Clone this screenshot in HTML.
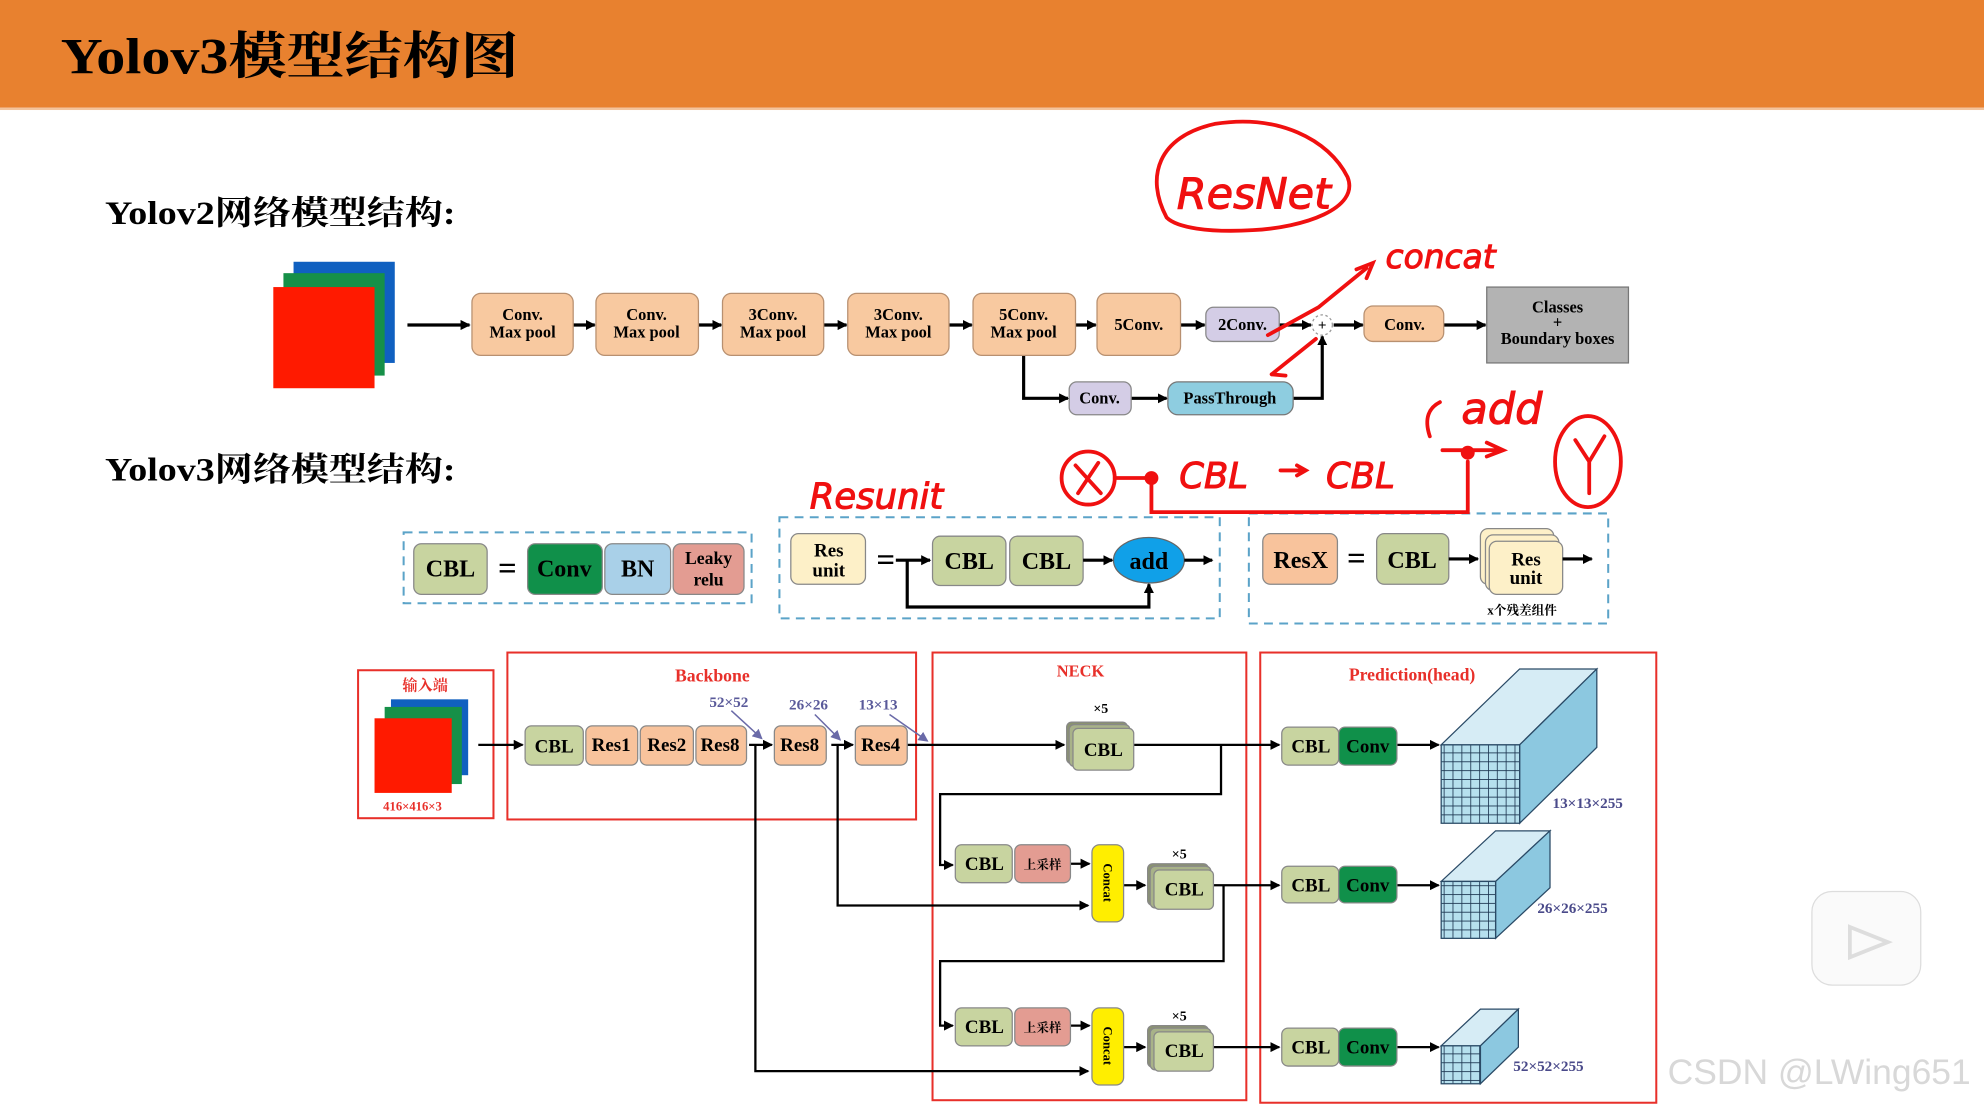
<!DOCTYPE html>
<html><head><meta charset="utf-8"><style>
html,body{margin:0;padding:0;background:#fff;}
svg{display:block}
text{font-family:"Liberation Serif","Noto Serif CJK SC","Noto Sans CJK SC",serif;font-weight:bold;}
</style></head><body>
<svg width="1984" height="1104" viewBox="0 0 1568 873" preserveAspectRatio="none" xmlns="http://www.w3.org/2000/svg">
<defs>
<marker id="a" markerWidth="8" markerHeight="8" refX="7" refY="4" orient="auto" markerUnits="userSpaceOnUse"><path d="M0,0 L8,4 L0,8 z" fill="#000"/></marker>
<marker id="p" markerWidth="8" markerHeight="8" refX="7" refY="4" orient="auto" markerUnits="userSpaceOnUse"><path d="M0,0 L8,4 L0,8 z" fill="#6a6aa8"/></marker>
<pattern id="g1" width="7" height="7" patternUnits="userSpaceOnUse"><rect width="7" height="7" fill="#b6e0ee"/><path d="M0,0H7M0,0V7" stroke="#1c3550" stroke-width="1.3"/></pattern>
</defs>
<rect x="0" y="0" width="1568" height="85" fill="#E8812F"/>
<rect x="0" y="85" width="1568" height="2" fill="#f3c39c"/>
<text x="48" y="58" font-size="40" fill="#000" textLength="362" lengthAdjust="spacingAndGlyphs">Yolov3模型结构图</text>
<text x="83" y="177" font-size="26" fill="#000" textLength="277" lengthAdjust="spacingAndGlyphs">Yolov2网络模型结构:</text>
<text x="83" y="380" font-size="26" fill="#000" textLength="277" lengthAdjust="spacingAndGlyphs">Yolov3网络模型结构:</text>

<!-- yolov2 -->
<rect x="232" y="207" width="80" height="80" fill="#1060C0"/>
<rect x="224" y="216" width="80" height="81" fill="#169048"/>
<rect x="216" y="227" width="80" height="80" fill="#FF1A00"/>
<g stroke="#000" stroke-width="2.5" fill="none" marker-end="url(#a)">
<path d="M322,257H371"/><path d="M453,257H470"/><path d="M552,257H570"/><path d="M651,257H669"/><path d="M750,257H768"/><path d="M850,257H866"/><path d="M933,257H952"/><path d="M1011,257H1036"/><path d="M1054,257H1077"/><path d="M1141,257H1174"/>
<path d="M809,281V315H844"/><path d="M894,315H922"/><path d="M1022,315H1045V266"/>
</g>
<g stroke="#b89070" stroke-width="1" fill="#F8C9A0">
<rect x="373" y="232" width="80" height="49" rx="7"/><rect x="471" y="232" width="81" height="49" rx="7"/><rect x="571" y="232" width="80" height="49" rx="7"/><rect x="670" y="232" width="80" height="49" rx="7"/><rect x="769" y="232" width="81" height="49" rx="7"/><rect x="867" y="232" width="66" height="49" rx="7"/><rect x="1078" y="242" width="63" height="28" rx="7"/>
</g>
<rect x="953" y="243" width="58" height="27" rx="6" fill="#D4CDE6" stroke="#888"/>
<rect x="845" y="302" width="49" height="26" rx="6" fill="#D4CDE6" stroke="#888"/>
<rect x="923" y="302" width="99" height="26" rx="8" fill="#8ECDE0" stroke="#777"/>
<rect x="1175" y="227" width="112" height="60" fill="#B3B3B3" stroke="#777"/>
<circle cx="1045" cy="257" r="8" fill="#fff" stroke="#999" stroke-dasharray="2,2"/>
<text x="1045" y="261" font-size="12" text-anchor="middle">+</text>
<g font-size="13" text-anchor="middle" fill="#000">
<text x="413" y="253">Conv.</text><text x="413" y="267">Max pool</text>
<text x="511" y="253">Conv.</text><text x="511" y="267">Max pool</text>
<text x="611" y="253">3Conv.</text><text x="611" y="267">Max pool</text>
<text x="710" y="253">3Conv.</text><text x="710" y="267">Max pool</text>
<text x="809" y="253">5Conv.</text><text x="809" y="267">Max pool</text>
<text x="900" y="261">5Conv.</text><text x="982" y="261">2Conv.</text><text x="1110" y="261">Conv.</text>
<text x="869" y="319">Conv.</text><text x="972" y="319">PassThrough</text>
<text x="1231" y="247">Classes</text><text x="1231" y="259">+</text><text x="1231" y="272">Boundary boxes</text>
</g>

<!-- components -->
<g fill="none" stroke="#5BA3C8" stroke-width="1.6" stroke-dasharray="7,5">
<rect x="319" y="421" width="275" height="56"/><rect x="616" y="409" width="348" height="80"/><rect x="987" y="406" width="284" height="87"/>
</g>
<g stroke="#888" stroke-width="1">
<rect x="327" y="430" width="58" height="40" rx="6" fill="#C8D4A0"/>
<rect x="417" y="430" width="59" height="40" rx="6" fill="#10904A"/>
<rect x="478" y="430" width="52" height="40" rx="6" fill="#A9D0E8"/>
<rect x="532" y="430" width="56" height="40" rx="6" fill="#E39C92"/>
<rect x="625" y="422" width="59" height="40" rx="6" fill="#FDF0C8"/>
<rect x="737" y="424" width="58" height="39" rx="6" fill="#C8D4A0"/>
<rect x="798" y="424" width="58" height="39" rx="6" fill="#C8D4A0"/>
<rect x="998" y="422" width="59" height="40" rx="6" fill="#F8C39C"/>
<rect x="1088" y="422" width="57" height="40" rx="6" fill="#C8D4A0"/>
<rect x="1170" y="418" width="58" height="44" rx="6" fill="#FDF0C8"/>
<rect x="1174" y="423" width="58" height="44" rx="6" fill="#FDF0C8"/>
<rect x="1177" y="428" width="58" height="42" rx="6" fill="#FDF0C8"/>
</g>
<ellipse cx="908" cy="443" rx="28" ry="18" fill="#10A0E8" stroke="#666"/>
<g stroke="#000" stroke-width="2.5" fill="none" marker-end="url(#a)">
<path d="M708,443H735"/><path d="M856,443H879"/><path d="M936,443H958"/><path d="M717,443V480H908V462"/><path d="M1145,442H1168"/><path d="M1235,442H1258"/>
</g>
<g font-size="19" text-anchor="middle" fill="#000">
<text x="356" y="456">CBL</text><text x="401" y="458" font-size="26">=</text>
<text x="446" y="456">Conv</text><text x="504" y="456">BN</text>
<text x="560" y="446" font-size="14">Leaky</text><text x="560" y="463" font-size="14">relu</text>
<text x="655" y="440" font-size="15">Res</text><text x="655" y="456" font-size="15">unit</text>
<text x="700" y="451" font-size="26">=</text>
<text x="766" y="450">CBL</text><text x="827" y="450">CBL</text><text x="908" y="450">add</text>
<text x="1028" y="449">ResX</text><text x="1072" y="450" font-size="26">=</text><text x="1116" y="449">CBL</text>
<text x="1206" y="447" font-size="15">Res</text><text x="1206" y="462" font-size="15">unit</text>
<text x="1203" y="486" font-size="10">x个残差组件</text>
</g>

<!-- bottom red boxes -->
<g fill="none" stroke="#E8302A" stroke-width="1.6">
<rect x="283" y="530" width="107" height="117"/><rect x="401" y="516" width="323" height="132"/><rect x="737" y="516" width="248" height="354"/><rect x="996" y="516" width="313" height="356"/>
</g>
<g fill="#E8302A" font-size="14" text-anchor="middle">
<text x="336" y="546" font-size="12">输入端</text><text x="563" y="539" font-weight="normal">Backbone</text><text x="854" y="535" font-weight="normal" font-size="13">NECK</text><text x="1116" y="538" font-weight="normal">Prediction(head)</text>
<text x="326" y="641" font-size="10" font-weight="normal">416×416×3</text>
</g>
<rect x="309" y="553" width="61" height="60" fill="#1060C0"/><rect x="304" y="559" width="61" height="61" fill="#169048"/><rect x="296" y="568" width="61" height="59" fill="#FF1A00"/>

<g stroke="#000" stroke-width="1.8" fill="none" marker-end="url(#a)">
<path d="M378,589H413"/><path d="M592,589H610"/><path d="M657,589H674"/><path d="M717,589H841"/>
<path d="M895,589H1011"/><path d="M1104,589H1137"/>
<path d="M965,589V628H743V684H753"/><path d="M846,683H861"/><path d="M662,589V716H860"/>
<path d="M888,700H905"/><path d="M958,700H1011"/><path d="M1104,700H1137"/>
<path d="M967,700V760H743V811H753"/><path d="M846,811H861"/><path d="M597,589V847H860"/>
<path d="M888,828H905"/><path d="M958,828H1011"/><path d="M1104,828H1137"/>
</g>
<g stroke="#6a6aa8" stroke-width="1.2" fill="none" marker-end="url(#p)">
<path d="M578,562L602,584"/><path d="M644,565L664,585"/><path d="M703,565L733,586"/>
</g>
<g fill="#5a5a9a" font-size="12" font-weight="normal" text-anchor="middle">
<text x="576" y="559">52×52</text><text x="639" y="561">26×26</text><text x="694" y="561">13×13</text>
</g>
<g stroke="#888" stroke-width="1">
<rect x="415" y="574" width="46" height="31" rx="5" fill="#C8D4A0"/>
<rect x="463" y="574" width="41" height="31" rx="5" fill="#F8C39C"/><rect x="506" y="574" width="42" height="31" rx="5" fill="#F8C39C"/><rect x="550" y="574" width="40" height="31" rx="5" fill="#F8C39C"/>
<rect x="612" y="574" width="41" height="31" rx="5" fill="#F8C39C"/><rect x="676" y="574" width="41" height="31" rx="5" fill="#F8C39C"/>
<rect x="843" y="571" width="48" height="33" rx="4" fill="#8a9270"/><rect x="845" y="573" width="48" height="33" rx="4" fill="#a8b288"/><rect x="848" y="576" width="48" height="33" rx="4" fill="#C8D4A0"/>
<rect x="907" y="683" width="48" height="33" rx="4" fill="#8a9270"/><rect x="909" y="685" width="48" height="33" rx="4" fill="#a8b288"/><rect x="912" y="688" width="47" height="31" rx="4" fill="#C8D4A0"/>
<rect x="907" y="811" width="48" height="33" rx="4" fill="#8a9270"/><rect x="909" y="813" width="48" height="33" rx="4" fill="#a8b288"/><rect x="912" y="816" width="47" height="31" rx="4" fill="#C8D4A0"/>
<rect x="755" y="668" width="45" height="30" rx="5" fill="#C8D4A0"/><rect x="802" y="668" width="44" height="30" rx="5" fill="#E39C92"/>
<rect x="755" y="797" width="45" height="30" rx="5" fill="#C8D4A0"/><rect x="802" y="797" width="44" height="30" rx="5" fill="#E39C92"/>
<rect x="863" y="668" width="25" height="61" rx="6" fill="#FFEE00"/><rect x="863" y="797" width="25" height="61" rx="6" fill="#FFEE00"/>
<rect x="1013" y="575" width="45" height="30" rx="5" fill="#C8D4A0"/><rect x="1058" y="575" width="46" height="30" rx="5" fill="#10904A"/>
<rect x="1013" y="685" width="45" height="29" rx="5" fill="#C8D4A0"/><rect x="1058" y="685" width="46" height="29" rx="5" fill="#10904A"/>
<rect x="1013" y="813" width="45" height="30" rx="5" fill="#C8D4A0"/><rect x="1058" y="813" width="46" height="30" rx="5" fill="#10904A"/>
</g>
<g font-size="15" text-anchor="middle" fill="#000">
<text x="438" y="595">CBL</text><text x="483" y="594">Res1</text><text x="527" y="594">Res2</text><text x="569" y="594">Res8</text><text x="632" y="594">Res8</text><text x="696" y="594">Res4</text>
<text x="872" y="598">CBL</text><text x="936" y="708">CBL</text><text x="936" y="836">CBL</text>
<text x="870" y="564" font-size="11">×5</text><text x="932" y="679" font-size="11">×5</text><text x="932" y="807" font-size="11">×5</text>
<text x="778" y="688">CBL</text><text x="824" y="687" font-size="10">上采样</text>
<text x="778" y="817">CBL</text><text x="824" y="816" font-size="10">上采样</text>
<text x="1036" y="595">CBL</text><text x="1081" y="595">Conv</text>
<text x="1036" y="705">CBL</text><text x="1081" y="705">Conv</text>
<text x="1036" y="833">CBL</text><text x="1081" y="833">Conv</text>
</g>
<text transform="translate(872,698) rotate(90)" font-size="10" text-anchor="middle">Concat</text>
<text transform="translate(872,827) rotate(90)" font-size="10" text-anchor="middle">Concat</text>

<!-- cubes -->
<g stroke="#2a4a66" stroke-width="1">
<path d="M1139,589L1201,529H1262L1201,589Z" fill="#D6ECF5"/><path d="M1201,589L1262,529V591L1201,651Z" fill="#8CC8E0"/><rect x="1139" y="589" width="62" height="62" fill="url(#g1)"/>
<path d="M1139,697L1182,657H1225L1182,697Z" fill="#D6ECF5"/><path d="M1182,697L1225,657V702L1182,742Z" fill="#8CC8E0"/><rect x="1139" y="697" width="43" height="45" fill="url(#g1)"/>
<path d="M1139,827L1170,798H1200L1170,827Z" fill="#D6ECF5"/><path d="M1170,827L1200,798V828L1170,857Z" fill="#8CC8E0"/><rect x="1139" y="827" width="31" height="30" fill="url(#g1)"/>
</g>
<g fill="#4a4a8a" font-size="12" font-weight="normal">
<text x="1227" y="639">13×13×255</text><text x="1215" y="722">26×26×255</text><text x="1196" y="847">52×52×255</text>
</g>

<!-- handwriting -->
<g fill="none" stroke="#F01010" stroke-width="3" stroke-linecap="round">
<path d="M922,172C905,140 915,108 960,98C1010,90 1050,110 1065,140C1075,165 1030,180 990,182C955,184 930,180 922,172"/>
<path d="M1002,265L1042,243M1042,243L1080,212"/><path d="M1072,213L1085,208L1080,220"/>
<path d="M1040,268L1005,296M1005,296L1015,288M1005,296L1016,297"/>
<circle cx="860" cy="378" r="21"/><path d="M850,368L870,390M868,366L852,390"/>
<path d="M881,378H905"/><circle cx="910" cy="378" r="4" fill="#F01010"/>
<path d="M910,380V405H1160V365"/><circle cx="1160" cy="358" r="4" fill="#F01010"/>
<path d="M1140,356H1185M1175,350L1188,356L1175,361"/>
<path d="M1012,372H1030M1025,368L1032,372L1025,376"/>
<path d="M1130,345C1125,330 1130,322 1138,318"/>
<ellipse cx="1255" cy="365" rx="26" ry="36"/><path d="M1245,348L1256,365L1268,345M1256,365V390"/>
</g>
<g fill="#F01010" stroke="#F01010" stroke-width="0.8">
<text x="930" y="165" font-size="34" style="font-family:'DejaVu Sans',sans-serif;font-weight:normal;font-style:italic">ResNet</text>
<text x="1095" y="212" font-size="26" style="font-family:'DejaVu Sans',sans-serif;font-weight:normal;font-style:italic">concat</text>
<text x="640" y="402" font-size="28" style="font-family:'DejaVu Sans',sans-serif;font-weight:normal;font-style:italic">Resunit</text>
<text x="932" y="386" font-size="28" style="font-family:'DejaVu Sans',sans-serif;font-weight:normal;font-style:italic">CBL</text>
<text x="1048" y="386" font-size="28" style="font-family:'DejaVu Sans',sans-serif;font-weight:normal;font-style:italic">CBL</text>
<text x="1155" y="335" font-size="34" style="font-family:'DejaVu Sans',sans-serif;font-weight:normal;font-style:italic">add</text>
</g>

<!-- overlays -->
<rect x="1432" y="705" width="86" height="74" rx="16" fill="#fafafa" stroke="#ddd"/>
<path d="M1462,733L1492,745L1462,757Z" fill="none" stroke="#ddd" stroke-width="3"/>
<text x="1318" y="857" font-size="28" fill="#d8d8d8" style="font-family:'Liberation Sans',sans-serif;font-weight:normal">CSDN @LWing651</text>
</svg>
</body></html>
